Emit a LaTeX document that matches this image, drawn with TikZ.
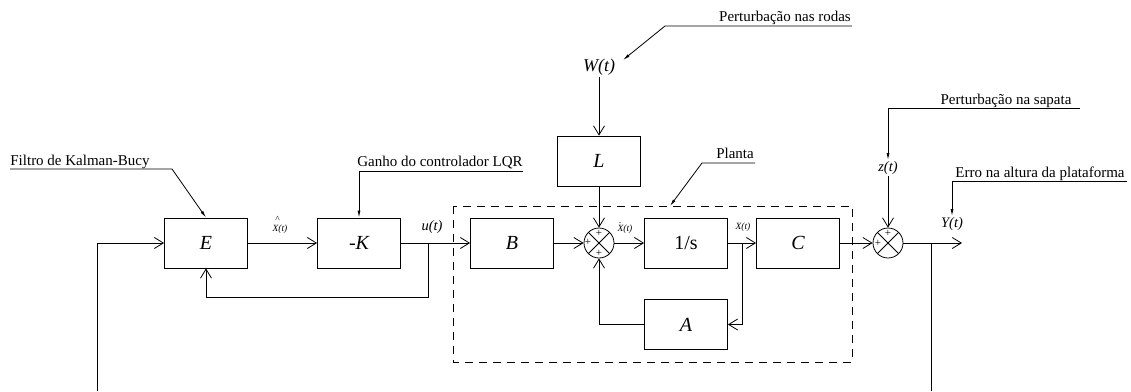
\documentclass[tikz,border=0pt]{standalone}
\usepackage{fontspec}
\setmainfont{Liberation Serif}
\usetikzlibrary{positioning,arrows.meta,calc}
\tikzset{
  blk/.style  = {draw, minimum width=83pt, minimum height=50pt, inner sep=0pt,
                 font=\fontsize{20}{24}\selectfont\itshape},
  sum/.style  = {draw, circle, minimum size=30pt, inner sep=0pt,
                 path picture={\draw (path picture bounding box.north west) -- (path picture bounding box.south east)
                                     (path picture bounding box.north east) -- (path picture bounding box.south west);}},
  ar/.style   = {-{Straight Barb[length=9pt,width=11pt]}},
  ptr/.style  = {-{Latex[length=7pt,width=3pt]}},
  note/.style = {font=\fontsize{15}{18}\selectfont, inner sep=0pt},
  sig/.style  = {font=\fontsize{14.5}{17}\selectfont\itshape, inner sep=1pt},
  tny/.style  = {font=\fontsize{9.5}{11}\selectfont\itshape, inner sep=0pt},
  pls/.style  = {font=\fontsize{11}{11}\selectfont, inner sep=0pt},
}
\begin{document}
\begin{tikzpicture}[x=1pt, y=-1pt, line width=0.8pt]
\useasboundingbox (0,0) rectangle (1131,391);
% planta
\draw[dash pattern=on 8pt off 6pt] (453,206) rectangle (852,362);
\node[blk] (E) at (206,243) {E};
\node[blk] (K) at (359,243) {-K};
\node[blk] (B) at (512,243) {B};
\node[sum] (s1) at (599,243) {};
\node[blk] (L) at (599,161) {L};
\node[blk, font=\fontsize{20}{24}\selectfont] (I) at (686,243) {1/s};
\node[blk] (A) at (686,324.5) {A};
\node[blk] (C) at (798,243) {C};
\node[sum] (s2) at (888,243) {};
\node[pls] at ($(s1)+(0,-10)$) {+};
\node[pls] at ($(s1)+(-11,-1)$) {+};
\node[pls] at ($(s1)+(0,10)$) {+};
\node[pls] at ($(s2)+(0,-10)$) {+};
\node[pls] at ($(s2)+(-10,0)$) {+};
% sinais
\node[tny] (xh) at (280,229) {X(t)};
\node[tny, above=1pt of xh.north west, xshift=5pt] (hat) {\textasciicircum};
\node[tny] (xd) at (625,229) {X(t)};
\node[tny, above=0pt of xd.north west, xshift=3pt] (dot) {.};
\node[tny] (xo) at (743,227) {X(t)};
\node[sig] (u) at (432,227) {u(t)};
\node[sig, font=\fontsize{18}{20}\selectfont\itshape] (W) at (599,67) {W(t)};
\node[sig] (z) at (888,168) {z(t)};
\node[sig] (Y) at (952,224) {Y(t)};
\coordinate (in) at (97,391);
\coordinate (ub) at (428,243);
\coordinate (xb) at (742,243);
\coordinate (yb) at (931,243);
\coordinate (yend) at (931,391);
\coordinate (out) at (962,243);
\draw[ar] (in) |- (E.west);
\draw[ar] (E) -- (K);
\draw[ar] (K) -- (B);
\draw[ar] (ub) -- ++(0,54) -| (E.south);
\draw[ar] (B) -- (s1);
\draw[ar] (W) -- (L);
\draw[ar] (L) -- (s1);
\draw[ar] (s1) -- (I);
\draw[ar] (I) -- (C);
\draw[ar] (xb) |- (A.east);
\draw[ar] (A.west) -| (s1.south);
\draw[ar] (C) -- (s2);
\draw[ar] (z) -- (s2);
\draw[ar] (s2) -- (out);
\draw (yb) -- (yend);
% legendas
\node[note, anchor=base west] (kf) at (10,165) {Filtro de Kalman-Bucy};
\coordinate (kf0) at (10,169);
\coordinate (kf1) at (172,169);
\draw[ptr] (kf0) -- (kf1) -- (E.north);
\node[note, anchor=base] (lq) at (440,166) {Ganho do controlador LQR};
\coordinate (lq0) at (523,171);
\coordinate (lq1) at (359,171);
\draw[ptr] (lq0) -- (lq1) -- (K.north);
\node[note, anchor=base] (rd) at (785,21) {Perturbação nas rodas};
\coordinate (rd0) at (852,26);
\coordinate (rd1) at (665,26);
\coordinate (rd2) at (623,60);
\draw[ptr] (rd0) -- (rd1) -- (rd2);
\node[note, anchor=base] (pl) at (735,158) {Planta};
\coordinate (pl0) at (755,163);
\coordinate (pl1) at (702,163);
\coordinate (pl2) at (670,206);
\draw[ptr] (pl0) -- (pl1) -- (pl2);
\node[note, anchor=base] (sp) at (1006,104) {Perturbação na sapata};
\coordinate (sp0) at (1080,108);
\coordinate (sp1) at (888,108);
\draw[ptr] (sp0) -- (sp1) -- (z.north);
\node[note, anchor=base] (er) at (1040,177) {Erro na altura da plataforma};
\coordinate (er0) at (1127,181);
\coordinate (er1) at (952,181);
\draw[ptr] (er0) -- (er1) -- (Y.north);
\end{tikzpicture}
\end{document}
